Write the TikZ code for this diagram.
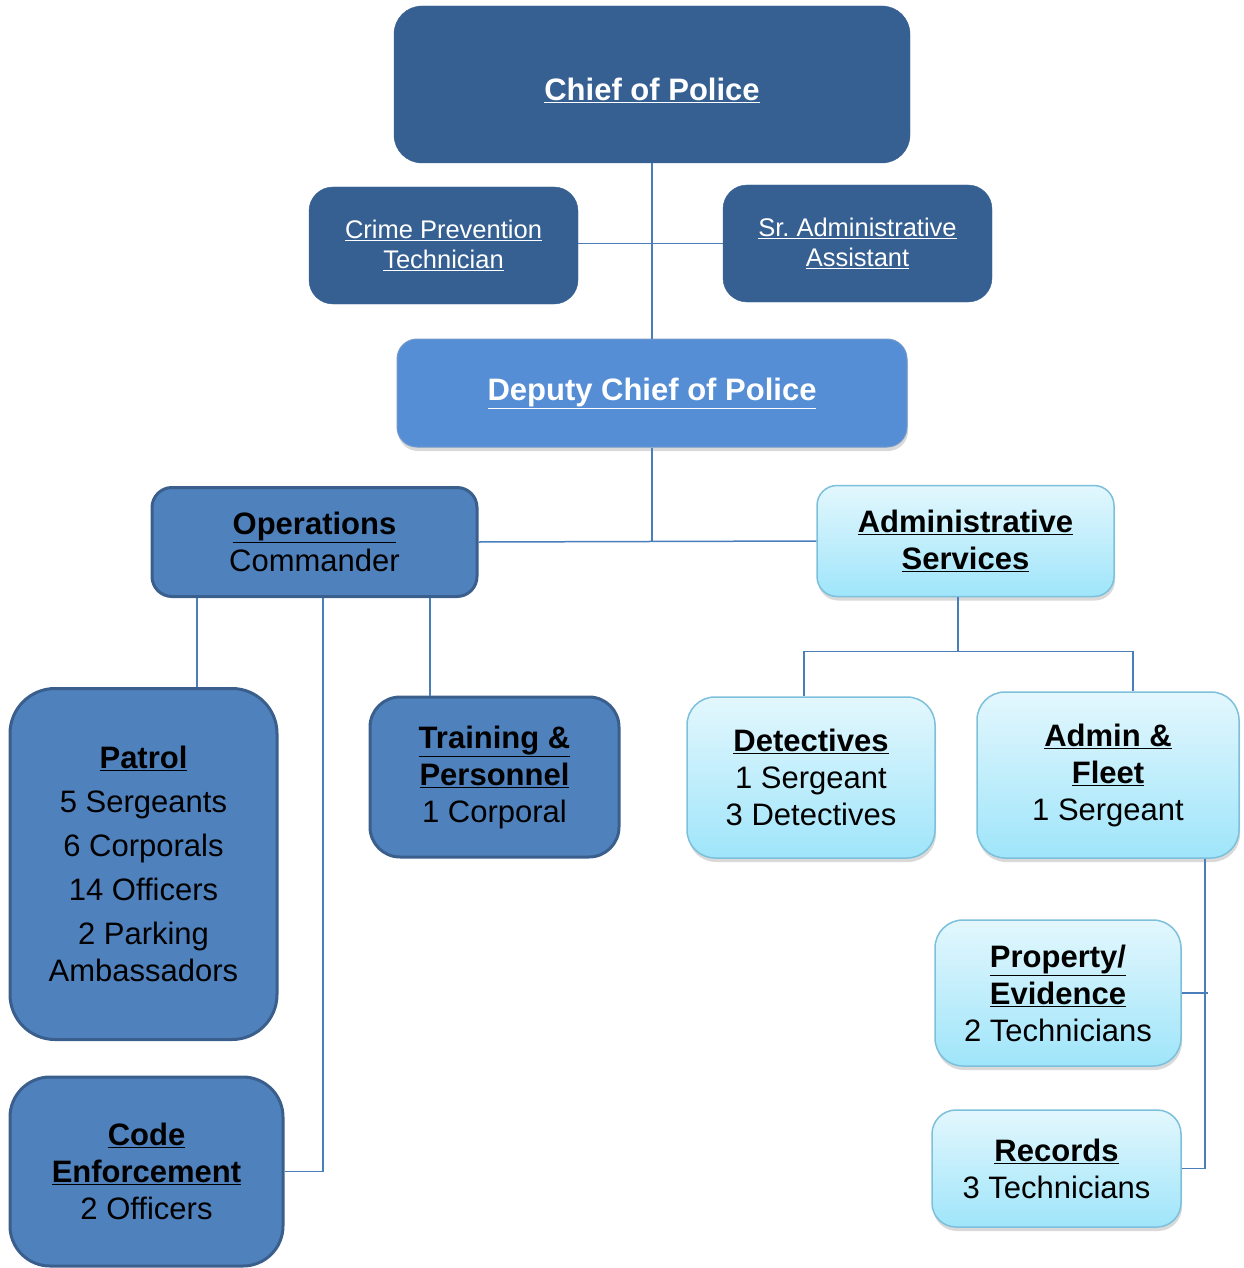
\documentclass[tikz,border=0pt]{standalone}
\usepackage{fontspec}
\setmainfont{Liberation Sans}
\usetikzlibrary{shadows}
\definecolor{chiefblue}{HTML}{376092}
\definecolor{deputyblue}{HTML}{558ED5}
\definecolor{unitblue}{HTML}{4F81BD}
\definecolor{unitedge}{HTML}{3A5F8C}
\definecolor{paletop}{HTML}{E3F7FD}
\definecolor{palebottom}{HTML}{9FE5FA}
\definecolor{paleedge}{HTML}{7CC0DC}
\definecolor{linkblue}{HTML}{4A7EBB}
\begin{document}
\begin{tikzpicture}[x=1pt,y=-1pt,
  chiefbox/.style={rectangle,inner sep=0pt,rounded corners=28pt,fill=chiefblue,draw=chiefblue,
    text=white,align=center,font=\fontsize{31}{37}\selectfont\bfseries},
  staffbox/.style={rectangle,inner sep=0pt,rounded corners=24pt,fill=chiefblue,draw=chiefblue,
    text=white,align=center,font=\fontsize{25.5}{30}\selectfont,
    minimum width=269,minimum height=117},
  deputybox/.style={rectangle,inner sep=0pt,rounded corners=20pt,fill=deputyblue,draw=unitblue!80,
    line width=1pt,text=white,align=center,font=\fontsize{31}{37}\selectfont\bfseries,
    drop shadow={shadow xshift=1pt,shadow yshift=-4pt,opacity=0.3}},
  unitbox/.style={rectangle,inner sep=0pt,rounded corners=30pt,fill=unitblue,draw=unitedge,
    line width=3pt,text=black,align=center,font=\fontsize{31}{37}\selectfont},
  palebox/.style={rectangle,inner sep=0pt,rounded corners=28pt,top color=paletop,bottom color=palebottom,
    draw=paleedge,line width=1.5pt,text=black,align=center,font=\fontsize{31}{37}\selectfont,
    drop shadow={shadow xshift=1pt,shadow yshift=-4pt,opacity=0.3}},
  link/.style={draw=linkblue,line width=1.5pt}]
\useasboundingbox (0,0) rectangle (1243,1268);

\node[chiefbox,minimum width=516,minimum height=157] (chief) at (652,84.5)
  {\raisebox{0pt}[\dimexpr\height+12pt\relax][\depth]{\underline{Chief of Police}}};
\node[staffbox] (crime) at (443.5,245.5) {\underline{Crime Prevention}\\\underline{Technician}};
\node[staffbox] (sradmin) at (857.5,243.5) {\underline{Sr.\ Administrative}\\\underline{Assistant}};
\node[deputybox,minimum width=510,minimum height=108] (deputy) at (652,393) {\underline{Deputy Chief of Police}};

\node[unitbox,rounded corners=20pt,minimum width=325,minimum height=109] (ops) at (314.5,542)
  {\underline{\textbf{Operations}}\\Commander};
\node[palebox,rounded corners=20pt,minimum width=297,minimum height=111] (adminsvc) at (965.5,541)
  {\underline{\textbf{Administrative}}\\\underline{\textbf{Services}}};

\node[unitbox,rounded corners=45pt,minimum width=267,minimum height=351] (patrol) at (143.5,864)
  {\underline{\textbf{Patrol}}\\[7pt]5 Sergeants\\[7pt]6 Corporals\\[7pt]14 Officers\\[7pt]2 Parking\\Ambassadors};
\node[unitbox,rounded corners=40pt,minimum width=273,minimum height=189] (code) at (146.5,1171.5)
  {\underline{\textbf{Code}}\\\underline{\textbf{Enforcement}}\\2 Officers};
\node[unitbox,minimum width=249,minimum height=160] (training) at (494.5,777)
  {\underline{\textbf{Training \&}}\\\underline{\textbf{Personnel}}\\1 Corporal};

\node[palebox,minimum width=248,minimum height=161] (detectives) at (811,777.5)
  {\underline{\textbf{Detectives}}\\1 Sergeant\\3 Detectives};
\node[palebox,minimum width=262,minimum height=166] (fleet) at (1108,775)
  {\underline{\textbf{Admin \&}}\\\underline{\textbf{Fleet}}\\1 Sergeant};
\node[palebox,minimum width=246,minimum height=146] (property) at (1058,993)
  {\underline{\textbf{Property/}}\\\underline{\textbf{Evidence}}\\2 Technicians};
\node[palebox,rounded corners=24pt,minimum width=249,minimum height=117] (records) at (1056.5,1168.5)
  {\underline{\textbf{Records}}\\3 Technicians};

\draw[link] (chief.south) -- (deputy.north);
\draw[link] (crime.east |- sradmin.west) -- (sradmin.west);
\draw[link] (deputy.south) -- (deputy.south |- ops.east);
\draw[link] (ops.east) -- (adminsvc.west);

\draw[link] ([xshift=-117.5pt]ops.south) -- ([xshift=-117.5pt]ops.south |- patrol.north);
\draw[link] ([xshift=115.5pt]ops.south) -- ([xshift=115.5pt]ops.south |- training.north);
\draw[link] ([xshift=8.5pt]ops.south) |- (code.east);

\coordinate (svcjoin) at ([xshift=-7.5pt]adminsvc.south |- 0,652);
\draw[link] ([xshift=-7.5pt]adminsvc.south) -- (svcjoin);
\draw[link] ([xshift=-7pt]detectives.north) -- ++(0,-45) -| ([xshift=25pt]fleet.north);

\coordinate (spine) at ([xshift=97pt]fleet.south);
\draw[link] (spine) |- (records.east);
\draw[link] (property.east) -- ([xshift=3pt]property.east -| spine);
\end{tikzpicture}
\end{document}
